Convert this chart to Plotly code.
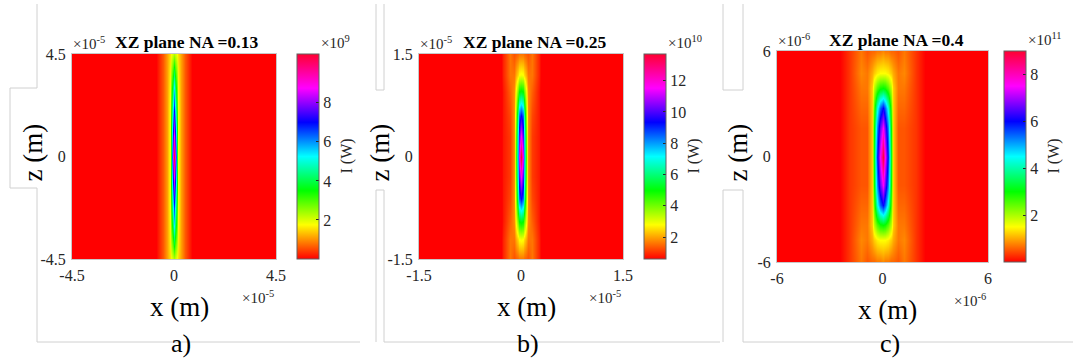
import plotly.graph_objects as go

W, H = 1073, 363
FONT = "Liberation Serif"

# ---------------- data ----------------
# Panel a: NA = 0.13, x,z in units of 1e-5 m, I in units of 1e9 W
a_x = [-4.5, -0.8, -0.5, -0.3, -0.18, -0.12, -0.06, 0, 0.06, 0.12, 0.18, 0.3, 0.5, 0.8, 4.5]
a_z = [-4.5, -3.9, -3, -2, -1, 0, 1, 2, 3, 3.9, 4.5]
a_I = [
    [0, 0, 0.6, 1.1, 1.5, 1.8, 2.1, 2.3, 2.1, 1.8, 1.5, 1.1, 0.6, 0, 0],
    [0, 0, 0.6, 1.1, 1.6, 2.2, 3.0, 3.6, 3.0, 2.2, 1.6, 1.1, 0.6, 0, 0],
    [0, 0, 0.6, 1.1, 1.7, 2.7, 4.3, 5.3, 4.3, 2.7, 1.7, 1.1, 0.6, 0, 0],
    [0, 0, 0.6, 1.1, 1.8, 3.2, 5.6, 7.0, 5.6, 3.2, 1.8, 1.1, 0.6, 0, 0],
    [0, 0, 0.6, 1.1, 1.8, 3.6, 7.2, 8.6, 7.2, 3.6, 1.8, 1.1, 0.6, 0, 0],
    [0, 0, 0.6, 1.1, 1.8, 4.0, 8.6, 10.4, 8.6, 4.0, 1.8, 1.1, 0.6, 0, 0],
    [0, 0, 0.6, 1.1, 1.8, 3.6, 7.2, 8.6, 7.2, 3.6, 1.8, 1.1, 0.6, 0, 0],
    [0, 0, 0.6, 1.1, 1.8, 3.2, 5.6, 7.0, 5.6, 3.2, 1.8, 1.1, 0.6, 0, 0],
    [0, 0, 0.6, 1.1, 1.7, 2.7, 4.3, 5.3, 4.3, 2.7, 1.7, 1.1, 0.6, 0, 0],
    [0, 0, 0.6, 1.1, 1.6, 2.2, 3.0, 3.6, 3.0, 2.2, 1.6, 1.1, 0.6, 0, 0],
    [0, 0, 0.6, 1.1, 1.5, 1.8, 2.1, 2.3, 2.1, 1.8, 1.5, 1.1, 0.6, 0, 0],
]
a_range = [0.0, 10.5]
a_cticks = [2, 4, 6, 8]

# Panel b: NA = 0.25, x,z in units of 1e-5 m, I in units of 1e10 W
b_x = [-1.5, -0.34, -0.26, -0.16, -0.1, -0.075, -0.05, -0.025, 0,
       0.025, 0.05, 0.075, 0.1, 0.16, 0.26, 0.34, 1.5]
b_z = [-1.5, -1.2, -0.95, -0.6, -0.3, 0, 0.3, 0.6, 0.95, 1.2, 1.5]
b_I = [
    [0, 0, 0.9, 1.6, 1.3, 1.4, 1.5, 1.6, 1.6, 1.6, 1.5, 1.4, 1.3, 1.6, 0.9, 0, 0],
    [0, 0, 0.9, 1.6, 1.6, 2.1, 2.5, 2.8, 2.9, 2.8, 2.5, 2.1, 1.6, 1.6, 0.9, 0, 0],
    [0, 0, 0.8, 1.4, 1.8, 3.0, 4.2, 5.0, 5.2, 5.0, 4.2, 3.0, 1.8, 1.4, 0.8, 0, 0],
    [0, 0, 0.8, 1.2, 1.8, 3.8, 6.5, 8.5, 9.4, 8.5, 6.5, 3.8, 1.8, 1.2, 0.8, 0, 0],
    [0, 0, 0.8, 1.1, 1.8, 4.3, 7.5, 10.0, 11.5, 10.0, 7.5, 4.3, 1.8, 1.1, 0.8, 0, 0],
    [0, 0, 0.8, 1.1, 1.8, 4.5, 8.0, 11.3, 13.6, 11.3, 8.0, 4.5, 1.8, 1.1, 0.8, 0, 0],
    [0, 0, 0.8, 1.1, 1.8, 4.3, 7.5, 10.0, 11.5, 10.0, 7.5, 4.3, 1.8, 1.1, 0.8, 0, 0],
    [0, 0, 0.8, 1.2, 1.8, 3.8, 6.5, 8.5, 9.4, 8.5, 6.5, 3.8, 1.8, 1.2, 0.8, 0, 0],
    [0, 0, 0.8, 1.4, 1.8, 3.0, 4.2, 5.0, 5.2, 5.0, 4.2, 3.0, 1.8, 1.4, 0.8, 0, 0],
    [0, 0, 0.9, 1.6, 1.6, 2.1, 2.5, 2.8, 2.9, 2.8, 2.5, 2.1, 1.6, 1.6, 0.9, 0, 0],
    [0, 0, 0.9, 1.6, 1.3, 1.4, 1.5, 1.6, 1.6, 1.6, 1.5, 1.4, 1.3, 1.6, 0.9, 0, 0],
]
b_range = [0.6, 13.7]
b_cticks = [2, 4, 6, 8, 10, 12]

# Panel c: NA = 0.4, x,z in units of 1e-6 m, I in units of 1e11 W
c_x = [-6, -2.4, -1.9, -1.25, -0.9, -0.6, -0.46, -0.34, -0.17, 0,
       0.17, 0.34, 0.46, 0.6, 0.9, 1.25, 1.9, 2.4, 6]
c_z = [-6, -4.75, -3.9, -2.75, -1.6, 0, 1.6, 2.75, 3.9, 4.75, 6]
c_I = [
    [0, 0, 0.3, 0.7, 0.5, 0.6, 0.6, 0.7, 0.7, 0.8, 0.7, 0.7, 0.6, 0.6, 0.5, 0.7, 0.3, 0, 0],
    [0, 0, 0.3, 0.8, 0.7, 1.0, 1.2, 1.4, 1.5, 1.5, 1.5, 1.4, 1.2, 1.0, 0.7, 0.8, 0.3, 0, 0],
    [0, 0, 0.3, 0.7, 0.7, 1.2, 1.9, 2.5, 2.9, 3.0, 2.9, 2.5, 1.9, 1.2, 0.7, 0.7, 0.3, 0, 0],
    [0, 0, 0.3, 0.6, 0.6, 1.2, 2.6, 4.3, 5.4, 6.0, 5.4, 4.3, 2.6, 1.2, 0.6, 0.6, 0.3, 0, 0],
    [0, 0, 0.3, 0.5, 0.5, 1.2, 3.0, 5.2, 6.6, 7.5, 6.6, 5.2, 3.0, 1.2, 0.5, 0.5, 0.3, 0, 0],
    [0, 0, 0.3, 0.5, 0.5, 1.2, 3.2, 5.8, 7.5, 8.9, 7.5, 5.8, 3.2, 1.2, 0.5, 0.5, 0.3, 0, 0],
    [0, 0, 0.3, 0.5, 0.5, 1.2, 3.0, 5.2, 6.6, 7.5, 6.6, 5.2, 3.0, 1.2, 0.5, 0.5, 0.3, 0, 0],
    [0, 0, 0.3, 0.6, 0.6, 1.2, 2.6, 4.3, 5.4, 6.0, 5.4, 4.3, 2.6, 1.2, 0.6, 0.6, 0.3, 0, 0],
    [0, 0, 0.3, 0.7, 0.7, 1.2, 1.9, 2.5, 2.9, 3.0, 2.9, 2.5, 1.9, 1.2, 0.7, 0.7, 0.3, 0, 0],
    [0, 0, 0.3, 0.8, 0.7, 1.0, 1.2, 1.4, 1.5, 1.5, 1.5, 1.4, 1.2, 1.0, 0.7, 0.8, 0.3, 0, 0],
    [0, 0, 0.3, 0.7, 0.5, 0.6, 0.6, 0.7, 0.7, 0.8, 0.7, 0.7, 0.6, 0.6, 0.5, 0.7, 0.3, 0, 0],
]
c_range = [0.0, 9.0]
c_cticks = [2, 4, 6, 8]

titles = ["XZ plane NA =0.13", "XZ plane NA =0.25", "XZ plane NA =0.4"]
axis_ticks = [[-4.5, 0, 4.5], [-1.5, 0, 1.5], [-6, 0, 6]]
axis_tick_text = [["-4.5", "0", "4.5"], ["-1.5", "0", "1.5"], ["-6", "0", "6"]]
axis_exp = ["×10<sup>-5</sup>", "×10<sup>-5</sup>", "×10<sup>-6</sup>"]
cbar_exp = ["×10<sup>9</sup>", "×10<sup>10</sup>", "×10<sup>11</sup>"]
captions = ["a)", "b)", "c)"]

# ---------------- layout geometry (pixels) ----------------
panels = [
    dict(x0=72, x1=276, y0=54, y1=259, cb=297),
    dict(x0=419, x1=623, y0=54, y1=259, cb=644),
    dict(x0=777, x1=988, y0=51, y1=262, cb=1004),
]

def px(x):
    return x / W

def py(y):
    return 1 - y / H

HSV = [
    [0.0, "#ff0000"],
    [1 / 6, "#ffff00"],
    [2 / 6, "#00ff00"],
    [3 / 6, "#00ffff"],
    [4 / 6, "#0000ff"],
    [5 / 6, "#ff00ff"],
    [1.0, "#ff0030"],
]

data = [(a_x, a_z, a_I, a_range, a_cticks),
        (b_x, b_z, b_I, b_range, b_cticks),
        (c_x, c_z, c_I, c_range, c_cticks)]

fig = go.Figure()
layout = dict(
    width=W, height=H,
    margin=dict(l=0, r=0, t=0, b=0, autoexpand=False),
    paper_bgcolor="white", plot_bgcolor="white",
    showlegend=False,
    font=dict(family=FONT, color="#262626"),
)
annotations = []
shapes = []

for i, (xs, zs, I, rng, cticks) in enumerate(data):
    p = panels[i]
    suf = "" if i == 0 else str(i + 1)
    fig.add_trace(go.Heatmap(
        x=xs, y=zs, z=I,
        colorscale=HSV, zmin=rng[0], zmax=rng[1],
        zsmooth="best",
        xaxis="x" + suf, yaxis="y" + suf,
        colorbar=dict(
            x=px(p["cb"]), xanchor="left",
            y=py((p["y0"] + p["y1"]) / 2), yanchor="middle",
            len=(p["y1"] - p["y0"]) / H, lenmode="fraction",
            thickness=22, thicknessmode="pixels",
            xpad=0, ypad=0,
            outlinewidth=1, outlinecolor="#606060",
            tickvals=cticks, ticks="inside", ticklen=3, tickcolor="#262626",
            tickfont=dict(family=FONT, size=16, color="#262626"),
        ),
    ))
    xa = dict(
        domain=[px(p["x0"]), px(p["x1"])],
        range=[axis_ticks[i][0], axis_ticks[i][-1]],
        tickvals=axis_ticks[i], ticktext=axis_tick_text[i],
        showgrid=False, zeroline=False, ticks="",
        showline=True, linecolor="#c8c8c8", mirror=True, linewidth=1,
        tickfont=dict(family=FONT, size=16, color="#262626"),
        anchor="y" + suf, ticklabelstandoff=2, automargin=False,
    )
    ya = dict(
        domain=[py(p["y1"]), py(p["y0"])],
        range=[axis_ticks[i][0], axis_ticks[i][-1]],
        tickvals=axis_ticks[i], ticktext=axis_tick_text[i],
        showgrid=False, zeroline=False, ticks="",
        showline=True, linecolor="#c8c8c8", mirror=True, linewidth=1,
        tickfont=dict(family=FONT, size=16, color="#262626"),
        anchor="x" + suf, ticklabelstandoff=2, automargin=False,
    )
    layout["xaxis" + suf] = xa
    layout["yaxis" + suf] = ya

    cx = (p["x0"] + p["x1"]) / 2
    # title
    title_cx = [186, 534, 896][i]
    annotations.append(dict(x=px(title_cx), y=py([42, 42, 40][i]), xref="paper", yref="paper",
                            text="<b>" + titles[i] + "</b>", showarrow=False,
                            font=dict(family=FONT, size=17.5, color="black"),
                            xanchor="center", yanchor="middle"))
    # y exponent
    annotations.append(dict(x=px(p["x0"] - 1), y=py(p["y0"] - 11), xref="paper", yref="paper",
                            text=axis_exp[i], showarrow=False,
                            font=dict(family=FONT, size=15, color="#262626"),
                            xanchor="left", yanchor="middle"))
    # x exponent
    annotations.append(dict(x=px(p["x1"]), y=py(p["y1"] + 38), xref="paper", yref="paper",
                            text=axis_exp[i], showarrow=False,
                            font=dict(family=FONT, size=15, color="#262626"),
                            xanchor="right", yanchor="middle"))
    # x label
    annotations.append(dict(x=px(cx + 5), y=py(p["y1"] + 48), xref="paper", yref="paper",
                            text="x (m)", showarrow=False,
                            font=dict(family=FONT, size=27, color="black"),
                            xanchor="center", yanchor="middle"))
    # caption
    annotations.append(dict(x=px(cx + 7), y=py(343), xref="paper", yref="paper",
                            text=captions[i], showarrow=False,
                            font=dict(family=FONT, size=26, color="black"),
                            xanchor="center", yanchor="middle"))
    # z label
    annotations.append(dict(x=px(p["x0"] - 40), y=py((p["y0"] + p["y1"]) / 2 - 4), xref="paper", yref="paper",
                            text="z (m)", showarrow=False, textangle=-90,
                            font=dict(family=FONT, size=27, color="black"),
                            xanchor="center", yanchor="middle"))
    # colorbar exponent
    annotations.append(dict(x=px(p["cb"] + 22), y=py(p["y0"] - 12), xref="paper", yref="paper",
                            text=cbar_exp[i], showarrow=False,
                            font=dict(family=FONT, size=15, color="#262626"),
                            xanchor="left", yanchor="middle"))
    # colorbar label
    annotations.append(dict(x=px(p["cb"] + 49), y=py((p["y0"] + p["y1"]) / 2), xref="paper", yref="paper",
                            text="I (W)", showarrow=False, textangle=-90,
                            font=dict(family=FONT, size=16, color="#262626"),
                            xanchor="center", yanchor="middle"))

# faint frame lines from the source document
FRAME = "#d0d0d0"
def seg(x0, y0, x1, y1):
    shapes.append(dict(type="line", xref="paper", yref="paper",
                       x0=px(x0), y0=py(y0), x1=px(x1), y1=py(y1),
                       line=dict(color=FRAME, width=1)))

# panel a
seg(37, 4, 37, 88); seg(37, 88, 10, 88); seg(10, 88, 10, 188); seg(10, 188, 37, 188)
seg(37, 188, 37, 342); seg(37, 342, 360, 342)
# panel b
seg(376, 4, 376, 90); seg(384, 4, 384, 90); seg(376, 90, 384, 90)
seg(376, 190, 376, 342); seg(384, 190, 384, 342); seg(376, 190, 384, 190); seg(384, 342, 720, 342)
# panel c
seg(723, 4, 723, 90); seg(743, 4, 743, 90); seg(723, 90, 743, 90)
seg(723, 190, 723, 342); seg(743, 190, 743, 342); seg(723, 190, 743, 190); seg(743, 342, 1073, 342)

layout["annotations"] = annotations
layout["shapes"] = shapes
fig.update_layout(**layout)
fig.write_html("out.html")
